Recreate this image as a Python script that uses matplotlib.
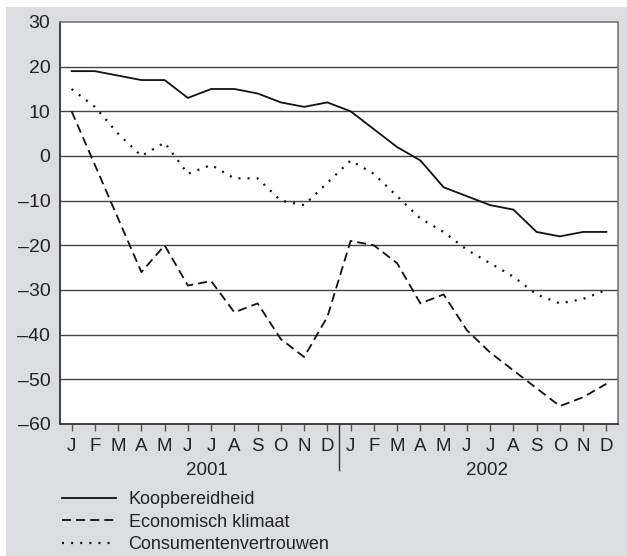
import matplotlib
matplotlib.use("Agg")
import matplotlib.pyplot as plt
from matplotlib.patches import Rectangle

# maanden (2001 en 2002)
months = ["J", "F", "M", "A", "M", "J", "J", "A", "S", "O", "N", "D"] * 2
years = ["2001", "2002"]

koopbereidheid = [19, 19, 18, 17, 17, 13, 15, 15, 14, 12, 11, 12,
                  10, 6, 2, -1, -7, -9, -11, -12, -17, -18, -17, -17]
economisch_klimaat = [10, -2, -14, -26, -20, -29, -28, -35, -33, -41, -45, -36,
                      -19, -20, -24, -33, -31, -39, -44, -48, -52, -56, -54, -51]
consumentenvertrouwen = [15, 11, 5, 0, 3, -4, -2, -5, -5, -10, -11, -6,
                         -1, -4, -9, -14, -17, -21, -24, -27, -31, -33, -32, -30]

labels = ["Koopbereidheid", "Economisch klimaat", "Consumentenvertrouwen"]

W, H = 627, 556
GRAY = "#dcdde0"
FS = 13

plt.rcParams["font.family"] = ["Liberation Sans", "DejaVu Sans"]
plt.rcParams["font.size"] = FS

fig = plt.figure(figsize=(W / 100, H / 100), dpi=100, facecolor="white")
fig.patches.append(Rectangle((6 / W, 0), 1 - 6 / W, 1 - 7 / H,
                             transform=fig.transFigure, facecolor=GRAY,
                             edgecolor="none", zorder=-10))

ax = fig.add_axes([60 / W, 1 - 424 / H, (618 - 60) / W, (424 - 22) / H])
ax.set_facecolor("white")

x = list(range(len(months)))
l1, = ax.plot(x, koopbereidheid, color="#111111", lw=1.3)
l2, = ax.plot(x, economisch_klimaat, color="#111111", lw=1.3,
              linestyle=(0, (5, 2.8)))
l3, = ax.plot(x, consumentenvertrouwen, color="#111111", lw=1.6,
              linestyle=(0, (0.9, 3.2)))

ax.set_xlim(-0.5, 23.5)
ax.set_ylim(-60, 30)
ax.set_yticks(range(-60, 31, 10))
ax.set_yticklabels([str(v).replace("-", "\u2013") for v in range(-60, 31, 10)])
for v in range(-50, 30, 10):
    ax.axhline(v, color="#444444", lw=1, zorder=0)

ax.set_xticks(x)
ax.set_xticklabels(months)
ax.tick_params(axis="x", direction="out", length=5, width=1, color="#555555",
               pad=5, labelsize=13.5, labelcolor="#222222")
ax.tick_params(axis="y", length=0, pad=7, labelsize=14, labelcolor="#222222")

for s in ["left", "bottom"]:
    ax.spines[s].set_color("#333333")
    ax.spines[s].set_linewidth(1.3)
for s in ["top", "right"]:
    ax.spines[s].set_color("#777777")
    ax.spines[s].set_linewidth(1.2)

# scheiding tussen de jaren
tr = ax.get_xaxis_transform()
ax.plot([11.5, 11.5], [0, -0.115], transform=tr, color="#333333", lw=1,
        clip_on=False)
ax.text(5.8, -0.115, years[0], transform=tr, ha="center", va="center",
        fontsize=13.5, color="#222222")
ax.text(17.85, -0.115, years[1], transform=tr, ha="center", va="center",
        fontsize=13.5, color="#222222")

fig.legend([l1, l2, l3], labels, loc="upper left",
           bbox_to_anchor=(46 / W, 1 - 475 / H), frameon=False,
           handlelength=2.95, handletextpad=0.72, labelspacing=0.3,
           fontsize=FS, labelcolor="#222222")

fig.savefig("out.png", dpi=100, facecolor="white")
